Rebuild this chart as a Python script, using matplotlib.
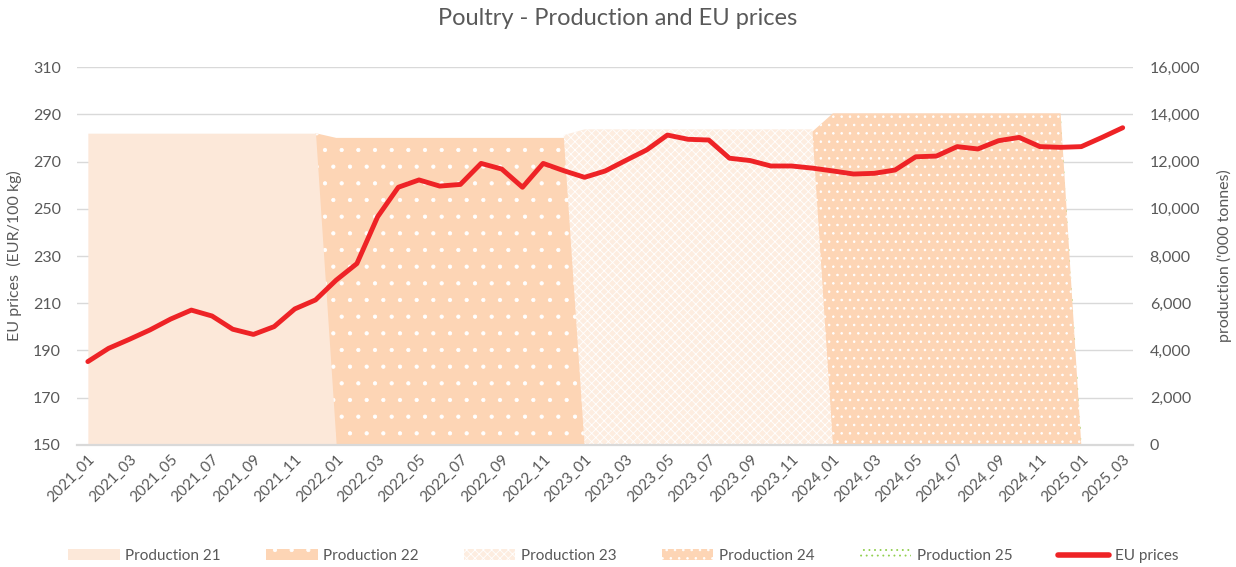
import numpy as np
import matplotlib
matplotlib.use("Agg")
import matplotlib.pyplot as plt
from matplotlib.patches import Patch
from matplotlib.lines import Line2D
from matplotlib.ticker import FuncFormatter, FixedLocator

plt.rcParams['font.family'] = ['Lato', 'DejaVu Sans']

months = ['2021_01', '2021_02', '2021_03', '2021_04', '2021_05', '2021_06', '2021_07', '2021_08',
          '2021_09', '2021_10', '2021_11', '2021_12', '2022_01', '2022_02', '2022_03', '2022_04',
          '2022_05', '2022_06', '2022_07', '2022_08', '2022_09', '2022_10', '2022_11', '2022_12',
          '2023_01', '2023_02', '2023_03', '2023_04', '2023_05', '2023_06', '2023_07', '2023_08',
          '2023_09', '2023_10', '2023_11', '2023_12', '2024_01', '2024_02', '2024_03', '2024_04',
          '2024_05', '2024_06', '2024_07', '2024_08', '2024_09', '2024_10', '2024_11', '2024_12',
          '2025_01', '2025_02', '2025_03']

eu_prices = [185.3, 190.9, 194.7, 198.7, 203.3, 207.1, 204.6, 199.0, 196.8, 200.1, 207.6, 211.4,
             219.8, 226.8, 246.6, 259.1, 262.2, 259.6, 260.3, 269.2, 266.8, 259.1, 269.2, 266.1,
             263.3, 266.0, 270.5, 274.9, 281.2, 279.4, 279.1, 271.4, 270.4, 268.1, 268.1, 267.2,
             266.0, 264.7, 265.0, 266.4, 272.0, 272.3, 276.3, 275.3, 278.8, 280.2, 276.3, 276.0,
             276.3, 280.2, 284.3]

# production series: (first month index, values)
prod21_start, prod21 = 0, [13200, 13200, 13200, 13200, 13200, 13200, 13200, 13200, 13200, 13200, 13200, 13200, 0]
prod22_start, prod22 = 11, [13200, 13000, 13000, 13000, 13000, 13000, 13000, 13000, 13000, 13000, 13000, 13000, 13000, 0]
prod23_start, prod23 = 23, [13120, 13360, 13360, 13360, 13360, 13360, 13360, 13360, 13360, 13360, 13360, 13360, 13360, 0]
prod24_start, prod24 = 35, [13260, 14040, 14040, 14040, 14040, 14040, 14040, 14040, 14040, 14040, 14040, 14040, 14040, 0]
prod25_start, prod25 = 47, [14100, 300]

prod_labels = ['Production 21', 'Production 22', 'Production 23', 'Production 24', 'Production 25']
price_ticks = [150, 170, 190, 210, 230, 250, 270, 290, 310]
prod_ticks = [0, 2000, 4000, 6000, 8000, 10000, 12000, 14000, 16000]

TEXT = '#595959'
GRID = '#D9D9D9'

fig = plt.figure(figsize=(12.36, 5.67), dpi=100)
ax = fig.add_axes([0.0627, 0.2152, 0.9167 - 0.0627, 0.8818 - 0.2152])
ax2 = ax.twinx()

x_all = np.arange(len(months))

styles = [
    dict(facecolor='#FCE8D9', edgecolor='#FCE8D9', hatch=None),
    dict(facecolor='#FDD5B5', edgecolor='white', hatch='.'),
    dict(facecolor='#FDEDE0', edgecolor='#FFFFFF', hatch='xxxx'),
    dict(facecolor='#FDD5B5', edgecolor='white', hatch='..'),
    dict(facecolor='none', edgecolor='#92D050', hatch='...'),
]
series = [(prod21_start, prod21), (prod22_start, prod22), (prod23_start, prod23),
          (prod24_start, prod24), (prod25_start, prod25)]

plt.rcParams['hatch.linewidth'] = 0.6
for k, ((s, vals), st) in enumerate(zip(series, styles)):
    xs = x_all[s:s + len(vals)]
    ax.fill_between(xs, 0, vals, facecolor=st['facecolor'], edgecolor=st['edgecolor'],
                    hatch=st['hatch'], linewidth=0, zorder=10 - k)

ax.set_ylim(0, 16000)
ax.set_xlim(-0.5, len(months) - 0.5)
ax.yaxis.set_major_locator(FixedLocator(prod_ticks))
ax.yaxis.set_major_formatter(FuncFormatter(lambda v, p: f'{int(v):,}'))
ax.yaxis.tick_right()
ax.yaxis.set_label_position('right')
ax.grid(axis='y', color=GRID, linewidth=1.0, zorder=0)
ax.set_axisbelow(True)
ax.set_ylabel("production ('000 tonnes)", color=TEXT, fontsize=11.5, labelpad=12)

ax2.plot(x_all, eu_prices, color='#EE2326', linewidth=3.5, solid_capstyle='round',
         solid_joinstyle='round', zorder=5)
ax2.set_ylim(150, 310)
ax2.yaxis.set_major_locator(FixedLocator(price_ticks))
ax2.yaxis.tick_left()
ax2.yaxis.set_label_position('left')
ax2.set_ylabel('EU prices  (EUR/100 kg)', color=TEXT, fontsize=11.5, labelpad=8)

for a in (ax, ax2):
    for sp in a.spines.values():
        sp.set_visible(False)
    a.tick_params(axis='both', length=0, labelsize=11.5, labelcolor=TEXT)
ax.spines['bottom'].set_visible(True)
ax.spines['bottom'].set_color(GRID)
ax.spines['bottom'].set_linewidth(1.6)
ax.spines['bottom'].set_zorder(20)

ax.set_xticks(x_all[::2])
ax.set_xticklabels(months[::2], rotation=45, ha='right', rotation_mode='anchor')
ax.tick_params(axis='x', pad=5, labelsize=11)
ax2.tick_params(axis='y', pad=12)
ax.tick_params(axis='y', pad=12)

fig.text(0.5, 0.967, 'Poultry - Production and EU prices', ha='center', va='center',
         fontsize=17, color=TEXT)

handles = [Patch(facecolor=st['facecolor'], edgecolor=st['edgecolor'], hatch=st['hatch'], linewidth=0)
           for st in styles]
handles.append(Line2D([0], [0], color='#EE2326', linewidth=4, solid_capstyle='round'))
labels = prod_labels + ['EU prices']
fig.legend(handles, labels, loc='center', bbox_to_anchor=(0.504, 0.019), ncol=6, frameon=False,
           fontsize=11, labelcolor=TEXT, handlelength=3.4, handleheight=0.75,
           handletextpad=0.35, columnspacing=2.95)

fig.savefig('out.png', dpi=100)
